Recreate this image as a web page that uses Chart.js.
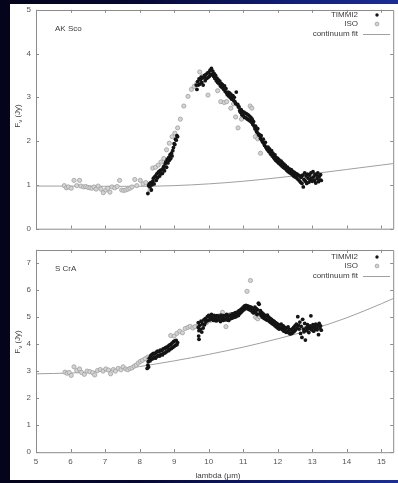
<!DOCTYPE html>
<html><head><meta charset="utf-8">
<script src="https://cdn.jsdelivr.net/npm/chart.js@4.4.0/dist/chart.umd.min.js"></script>
<style>
html,body{margin:0;padding:0;width:398px;height:483px;overflow:hidden;background:#05051f;}
#bg{position:absolute;left:0;top:0;width:398px;height:483px;background:linear-gradient(to right,#04041b 0%,#060833 35%,#121f78 75%,#1c2e94 100%);}
#paper{position:absolute;left:10px;top:4px;width:388px;height:476px;background:#fff;}
canvas{position:absolute;left:0;}
</style></head><body>
<div id="bg"></div><div id="paper"></div>
<canvas id="c1" width="398" height="240" style="top:0"></canvas>
<canvas id="c2" width="398" height="243" style="top:240px"></canvas>
<script>
// ---------- data ----------
const xTicks = [5,6,7,8,9,10,11,12,13,14,15];
const akScoYTicks = [0,1,2,3,4,5];
const sCrAYTicks = [0,1,2,3,4,5,6,7];
const seriesLabels = ['TIMMI2','ISO','continuum fit'];

const akScoTimmi2 = [[8.24,0.80],[8.26,0.98],[8.28,1.02],[8.30,0.95],[8.32,1.05],[8.34,0.88],[8.36,1.00],[8.38,1.08],[8.40,1.15],[8.42,1.02],[8.44,1.18],[8.46,1.20],[8.48,1.10],[8.50,1.25],[8.52,1.16],[8.54,1.28],[8.56,1.30],[8.58,1.20],[8.60,1.33],[8.62,1.25],[8.64,1.34],[8.66,1.26],[8.68,1.38],[8.70,1.42],[8.72,1.32],[8.74,1.48],[8.76,1.52],[8.78,1.40],[8.80,1.58],[8.82,1.50],[8.84,1.62],[8.86,1.56],[8.88,1.68],[8.90,1.60],[8.92,1.72],[8.94,1.66],[8.96,1.78],[8.98,1.85],[9.00,1.94],[9.02,1.92],[9.04,2.04],[9.06,2.02],[9.08,2.12],[9.10,2.10],
[9.64,3.28],[9.66,3.18],[9.68,3.36],[9.70,3.28],[9.72,3.42],[9.74,3.30],[9.76,3.40],[9.78,3.46],[9.80,3.34],[9.82,3.44],[9.84,3.28],[9.86,3.46],[9.88,3.50],[9.90,3.38],[9.92,3.52],[9.94,3.43],[9.96,3.55],[9.98,3.45],[10.00,3.57],[10.02,3.48],[10.04,3.62],[10.06,3.52],[10.08,3.66],[10.10,3.53],[10.12,3.60],[10.14,3.48],[10.16,3.54],[10.18,3.43],[10.20,3.50],[10.22,3.38],[10.24,3.44],[10.26,3.34],[10.28,3.40],[10.30,3.31],[10.32,3.37],[10.34,3.26],[10.36,3.32],[10.38,3.23],[10.40,3.29],[10.42,3.20],[10.44,3.18],[10.46,3.26],[10.48,3.13],[10.50,3.20],[10.52,3.10],[10.54,3.06],[10.56,3.12],[10.58,3.03],[10.60,3.10],[10.62,3.00],[10.64,3.07],[10.66,2.96],[10.68,3.02],[10.70,3.04],[10.72,2.93],[10.74,3.00],[10.76,2.90],[10.78,2.86],[10.80,3.12],[10.82,2.83],[10.84,2.84],[10.86,2.78],[10.88,2.78],[10.90,2.70],[10.92,2.66],[10.94,2.72],[10.96,2.60],[10.98,2.67],[11.00,2.58],[11.02,2.66],[11.04,2.54],[11.06,2.64],[11.08,2.53],[11.10,2.62],[11.12,2.50],[11.14,2.60],[11.16,2.48],[11.18,2.57],[11.20,2.46],[11.22,2.54],[11.24,2.43],[11.26,2.50],[11.28,2.38],[11.30,2.44],[11.32,2.34],[11.34,2.28],[11.36,2.34],[11.38,2.23],[11.40,2.20],[11.42,2.28],[11.44,2.16],[11.46,2.13],[11.48,2.14],[11.50,2.06],[11.52,2.12],[11.54,2.02],[11.56,1.98],[11.58,2.04],[11.60,1.94],[11.62,1.90],[11.64,1.97],[11.66,1.86],[11.68,1.83],[11.70,1.80],[11.72,1.86],[11.74,1.76],[11.76,1.82],[11.78,1.73],[11.80,1.70],[11.82,1.78],[11.84,1.66],[11.86,1.72],[11.88,1.63],[11.90,1.60],[11.92,1.68],[11.94,1.56],[11.96,1.62],[11.98,1.53],[12.00,1.60],[12.02,1.50],[12.04,1.57],[12.06,1.48],[12.08,1.46],[12.10,1.54],[12.12,1.43],[12.14,1.50],[12.16,1.40],[12.18,1.47],[12.20,1.38],[12.22,1.44],[12.24,1.36],[12.26,1.33],[12.28,1.40],[12.30,1.30],[12.32,1.37],[12.34,1.28],[12.36,1.35],[12.38,1.26],[12.40,1.34],[12.42,1.23],[12.44,1.30],[12.46,1.20],[12.48,1.28],[12.50,1.18],[12.52,1.26],[12.54,1.16],[12.56,1.24],[12.58,1.13],[12.60,1.22],[12.62,1.10],[12.64,1.20],[12.66,1.06],[12.68,1.17],[12.70,1.03],[12.72,1.22],[12.74,0.95],[12.76,1.12],[12.78,1.27],[12.80,1.08],[12.82,1.20],[12.84,1.03],[12.86,1.24],[12.88,1.15],[12.90,1.06],[12.92,1.22],[12.94,1.10],[12.96,1.27],[12.98,1.15],[13.00,1.08],[13.02,1.30],[13.04,1.18],[13.06,1.10],[13.08,1.24],[13.10,1.04],[13.12,1.22],[13.14,1.14],[13.16,1.27],[13.18,1.07],[13.20,1.19],[13.22,1.11],[13.24,1.23],[13.26,1.10]];

const akScoIso = [[5.82,0.98],[5.88,0.93],[5.94,0.95],[6.02,0.92],[6.10,1.10],[6.18,0.98],[6.26,1.10],[6.30,0.97],[6.38,0.95],[6.44,0.96],[6.50,0.94],[6.56,0.93],[6.62,0.92],[6.68,0.95],[6.74,0.90],[6.80,0.97],[6.88,0.90],[6.95,0.82],[7.02,0.88],[7.08,0.92],[7.14,0.83],[7.20,0.95],[7.28,0.93],[7.35,0.96],[7.42,1.10],[7.48,0.88],[7.54,0.87],[7.60,0.88],[7.66,0.90],[7.72,0.92],[7.78,0.95],[7.86,1.12],[7.92,0.98],[8.02,1.10],[8.10,1.02],[8.18,1.05],[8.30,0.88],[8.38,1.38],[8.46,1.40],[8.54,1.45],[8.62,1.52],[8.70,1.60],[8.78,1.80],[8.86,1.95],[8.94,2.10],[9.02,2.18],[9.10,2.30],[9.18,2.50],[9.28,2.80],[9.40,3.02],[9.50,3.18],[9.58,3.25],[9.66,3.32],[9.74,3.58],[9.82,3.48],[9.98,3.05],[10.26,3.15],[10.35,2.90],[10.45,2.88],[10.52,2.90],[10.64,2.75],[10.72,2.85],[10.78,2.55],[10.85,2.30],[10.95,2.50],[11.20,2.80],[11.25,2.75],[11.35,2.10],[11.42,2.05],[11.50,1.72]];

const akScoContinuum = [[5,0.97],[6,0.97],[7,0.965],[8,0.965],[9,0.98],[10,1.02],[11,1.08],[12,1.16],[13,1.25],[14,1.35],[15,1.45],[15.5,1.50]];

const sCrATimmi2 = [[8.22,3.10],[8.24,3.22],[8.25,3.35],[8.26,3.15],[8.28,3.48],[8.30,3.38],[8.32,3.56],[8.34,3.44],[8.36,3.62],[8.38,3.46],[8.40,3.66],[8.42,3.52],[8.44,3.64],[8.46,3.48],[8.48,3.70],[8.50,3.54],[8.52,3.74],[8.54,3.58],[8.56,3.72],[8.58,3.56],[8.60,3.78],[8.62,3.62],[8.64,3.76],[8.66,3.60],[8.68,3.82],[8.70,3.66],[8.72,3.84],[8.74,3.68],[8.76,3.88],[8.78,3.72],[8.80,3.86],[8.82,3.92],[8.84,3.76],[8.86,3.96],[8.88,3.81],[8.90,3.99],[8.92,3.84],[8.94,4.04],[8.96,3.88],[8.98,4.09],[9.00,3.92],[9.02,4.12],[9.04,3.96],[9.06,4.14],[9.08,3.98],[9.10,4.06],
[9.70,4.80],[9.70,4.62],[9.71,4.30],[9.72,4.18],[9.72,4.50],[9.74,4.70],[9.76,4.55],[9.78,4.85],[9.80,4.45],[9.82,4.75],[9.84,4.60],[9.86,4.90],[9.88,4.72],[9.90,4.95],[9.92,4.82],[9.94,4.88],[9.96,5.02],[9.98,4.88],[10.00,5.07],[10.02,4.90],[10.04,5.02],[10.06,4.92],[10.08,5.10],[10.10,4.96],[10.12,5.05],[10.14,4.88],[10.16,5.07],[10.18,4.94],[10.20,5.02],[10.22,4.86],[10.24,5.06],[10.26,4.92],[10.28,5.04],[10.30,4.90],[10.32,5.02],[10.34,4.84],[10.36,5.08],[10.38,4.94],[10.40,5.02],[10.42,4.88],[10.44,5.06],[10.46,4.93],[10.48,5.04],[10.50,4.90],[10.52,5.10],[10.54,4.96],[10.56,5.04],[10.58,4.88],[10.60,5.08],[10.62,4.94],[10.64,5.06],[10.66,4.96],[10.68,5.12],[10.70,4.98],[10.72,5.08],[10.74,5.14],[10.76,5.00],[10.78,5.17],[10.80,5.03],[10.82,5.12],[10.84,5.20],[10.86,5.06],[10.88,5.24],[10.90,5.13],[10.92,5.27],[10.94,5.18],[10.96,5.32],[10.98,5.24],[11.00,5.37],[11.02,5.28],[11.04,5.42],[11.06,5.32],[11.08,5.44],[11.10,5.34],[11.12,5.42],[11.14,5.30],[11.16,5.40],[11.18,5.28],[11.20,5.38],[11.22,5.26],[11.24,5.36],[11.26,5.20],[11.28,5.32],[11.30,5.16],[11.32,5.28],[11.34,5.37],[11.36,5.18],[11.38,5.32],[11.40,5.10],[11.42,5.27],[11.44,5.52],[11.46,5.48],[11.48,5.13],[11.50,5.24],[11.52,5.06],[11.54,5.17],[11.56,5.00],[11.58,5.12],[11.60,4.96],[11.62,5.08],[11.64,4.93],[11.66,5.04],[11.68,4.90],[11.70,5.08],[11.72,4.88],[11.74,5.00],[11.76,4.84],[11.78,4.96],[11.80,4.80],[11.82,4.92],[11.84,4.76],[11.86,4.87],[11.88,4.73],[11.90,4.84],[11.92,4.68],[11.94,4.80],[11.96,4.64],[11.98,4.76],[12.00,4.60],[12.02,4.72],[12.04,4.56],[12.06,4.70],[12.08,4.58],[12.10,4.74],[12.12,4.60],[12.14,4.53],[12.16,4.68],[12.18,4.48],[12.20,4.62],[12.22,4.50],[12.24,4.44],[12.26,4.60],[12.28,4.46],[12.30,4.64],[12.32,4.42],[12.34,4.54],[12.36,4.38],[12.38,4.52],[12.40,4.40],[12.42,4.57],[12.44,4.43],[12.46,4.62],[12.48,4.48],[12.50,4.68],[12.52,4.53],[12.54,4.74],[12.56,4.60],[12.58,5.02],[12.60,4.70],[12.62,4.56],[12.64,4.82],[12.66,4.40],[12.68,4.66],[12.70,4.25],[12.72,4.92],[12.74,4.56],[12.76,4.46],[12.78,4.77],[12.80,4.15],[12.82,4.60],[12.84,4.50],[12.86,4.72],[12.88,4.62],[12.90,4.43],[12.92,4.58],[12.94,4.68],[12.96,5.05],[12.98,4.53],[13.00,4.62],[13.02,4.72],[13.04,4.48],[13.06,4.64],[13.08,4.56],[13.10,4.74],[13.12,4.60],[13.14,4.53],[13.16,4.70],[13.18,4.35],[13.20,4.77],[13.22,4.60],[13.24,4.68],[13.26,4.52]];

const sCrAIso = [[5.84,2.96],[5.90,2.92],[5.96,2.95],[6.02,2.84],[6.10,3.16],[6.18,3.02],[6.26,3.08],[6.32,2.95],[6.40,2.88],[6.48,3.00],[6.56,2.98],[6.64,2.94],[6.70,2.86],[6.78,3.02],[6.86,3.06],[6.94,3.00],[7.02,3.08],[7.10,3.04],[7.16,2.90],[7.24,3.06],[7.30,3.00],[7.38,3.10],[7.46,3.05],[7.52,3.16],[7.60,3.08],[7.66,3.05],[7.72,3.10],[7.78,3.12],[7.84,3.18],[7.90,3.22],[7.96,3.30],[8.02,3.36],[8.08,3.40],[8.16,3.46],[8.24,3.52],[8.34,3.58],[8.44,3.62],[8.54,3.66],[8.64,3.72],[8.74,3.80],[8.84,3.90],[8.90,4.32],[9.00,4.30],[9.08,4.40],[9.16,4.48],[9.24,4.42],[9.32,4.58],[9.40,4.62],[9.46,4.66],[9.54,4.60],[9.60,4.65],[9.70,4.70],[9.78,4.76],[9.86,4.82],[9.94,4.80],[10.05,4.88],[10.15,4.95],[10.30,5.05],[10.40,5.18],[10.50,4.65],[10.62,5.10],[10.75,5.12],[10.90,5.20],[11.00,5.30],[11.11,5.96],[11.21,6.36],[11.30,5.20],[11.36,5.00],[11.42,4.94],[11.48,5.02],[11.55,5.10],[11.62,4.98]];

const sCrAContinuum = [[5,2.90],[6,2.93],[7,3.00],[8,3.17],[9,3.38],[10,3.62],[11,3.89],[12,4.20],[13,4.55],[14,4.98],[15,5.50],[15.5,5.78]];

// ---------- drawing ----------
const FONT = '"Liberation Sans", Arial, sans-serif';
const X_MAX = 15.343;
const frameColor = '#8c8c8c';

const framePlugin = {
  id: 'gpFrame',
  beforeDatasetsDraw(chart) {
    const {ctx, chartArea: a, scales: {x, y}} = chart;
    ctx.save();
    ctx.strokeStyle = frameColor;
    ctx.lineWidth = 1;
    ctx.beginPath();
    ctx.rect(Math.round(a.left) + 0.5, Math.round(a.top) + 0.5, a.right - a.left, a.bottom - a.top);
    ctx.stroke();
    ctx.beginPath();
    const tl = 3;
    x.ticks.forEach(t => {
      const px = Math.round(x.getPixelForValue(t.value)) + 0.5;
      ctx.moveTo(px, a.bottom); ctx.lineTo(px, a.bottom - tl);
      ctx.moveTo(px, a.top); ctx.lineTo(px, a.top + tl);
    });
    y.ticks.forEach(t => {
      const py = Math.round(y.getPixelForValue(t.value)) + 0.5;
      ctx.moveTo(a.left, py); ctx.lineTo(a.left + tl, py);
      ctx.moveTo(a.right, py); ctx.lineTo(a.right - tl, py);
    });
    ctx.stroke();
    ctx.restore();
  }
};

const annotPlugin = {
  id: 'gpText',
  afterDraw(chart, args, o) {
    const ctx = chart.ctx;
    const ds = chart.data.datasets;
    ctx.save();
    ctx.fillStyle = '#3c3c3c';
    ctx.font = '8px ' + FONT;
    ctx.textBaseline = 'middle';
    ctx.textAlign = 'left';
    ctx.fillText(o.name, 55, o.nameY);
    ctx.textAlign = 'right';
    const lx = 358, ly = o.legendY;
    ctx.fillText(ds[0].label, lx, ly);
    ctx.fillText(ds[1].label, lx, ly + 9);
    ctx.fillText(ds[2].label, lx, ly + 19);
    ctx.beginPath(); ctx.arc(377, ly, 1.7, 0, Math.PI * 2);
    ctx.fillStyle = ds[0].pointBackgroundColor; ctx.fill();
    ctx.beginPath(); ctx.arc(377, ly + 9, 1.9, 0, Math.PI * 2);
    ctx.fillStyle = ds[1].pointBackgroundColor; ctx.fill();
    ctx.strokeStyle = ds[1].pointBorderColor; ctx.lineWidth = 0.8; ctx.stroke();
    ctx.beginPath(); ctx.moveTo(363, ly + 19.5); ctx.lineTo(390, ly + 19.5);
    ctx.strokeStyle = ds[2].borderColor; ctx.lineWidth = 1; ctx.stroke();
    ctx.fillStyle = '#3c3c3c';
    ctx.translate(18, o.yTitleY);
    ctx.rotate(-Math.PI / 2);
    ctx.textAlign = 'left';
    ctx.font = '8px ' + FONT;
    const wF = ctx.measureText('F').width;
    const wR = ctx.measureText(' (Jy)').width;
    ctx.font = '6px ' + FONT;
    const wN = ctx.measureText('ν').width;
    const start = -(wF + wN + wR) / 2;
    ctx.font = '8px ' + FONT;
    ctx.fillText('F', start, 0);
    ctx.font = '6px ' + FONT;
    ctx.fillText('ν', start + wF, 2.5);
    ctx.font = '8px ' + FONT;
    ctx.fillText(' (Jy)', start + wF + wN, 0);
    ctx.setTransform(1, 0, 0, 1, 0, 0);
    if (o.xTitle) {
      ctx.textAlign = 'center';
      ctx.fillText(o.xTitle, 218, o.xTitleY);
    }
    ctx.restore();
  }
};

function toPts(arr) { return arr.map(p => ({x: p[0], y: p[1]})); }

function panel(id, cfg) {
  return new Chart(document.getElementById(id), {
    type: 'scatter',
    data: {
      datasets: [
        {label: seriesLabels[0], data: toPts(cfg.timmi), pointRadius: 1.9, pointBackgroundColor: '#141414', pointBorderWidth: 0, order: 1},
        {label: seriesLabels[1], data: toPts(cfg.iso), pointRadius: 2.1, pointBackgroundColor: '#d4d4d4', pointBorderColor: '#a0a0a0', pointBorderWidth: 0.8, order: 2},
        {label: seriesLabels[2], data: toPts(cfg.cont), showLine: true, pointRadius: 0, borderColor: '#a0a0a0', borderWidth: 1, cubicInterpolationMode: 'monotone', order: 3}
      ]
    },
    options: {
      responsive: false, animation: false, events: [],
      layout: {padding: {top: cfg.padTop, left: 0, right: 0, bottom: 0}},
      plugins: {legend: {display: false}, tooltip: {enabled: false}, gpText: cfg.text},
      scales: {
        x: {
          type: 'linear', min: 5, max: X_MAX,
          grid: {display: false, drawTicks: false}, border: {display: false},
          afterBuildTicks(s) { s.ticks = xTicks.map(v => ({value: v})); },
          ticks: {display: cfg.showX, padding: 5, color: '#555', font: {family: FONT, size: 8}, maxRotation: 0, autoSkip: false},
          afterFit(s) { s.height = cfg.xHeight; }
        },
        y: {
          type: 'linear', min: 0, max: cfg.yMax,
          grid: {display: false, drawTicks: false}, border: {display: false},
          afterBuildTicks(s) { s.ticks = cfg.yTicks.map(v => ({value: v})); },
          ticks: {padding: 5, color: '#555', font: {family: FONT, size: 8}, autoSkip: false},
          afterFit(s) { s.width = 36; }
        }
      }
    },
    plugins: [framePlugin, annotPlugin]
  });
}

panel('c1', {timmi: akScoTimmi2, iso: akScoIso, cont: akScoContinuum, yMax: 5, yTicks: akScoYTicks,
  padTop: 9.5, xHeight: 11.5, showX: false,
  text: {name: 'AK Sco', nameY: 29, legendY: 15, yTitleY: 116}});
panel('c2', {timmi: sCrATimmi2, iso: sCrAIso, cont: sCrAContinuum, yMax: 7.5, yTicks: sCrAYTicks,
  padTop: 8, xHeight: 31, showX: true,
  text: {name: 'S CrA', nameY: 29, legendY: 17, yTitleY: 102, xTitle: 'lambda (μm)', xTitleY: 236}});
</script>
</body></html>
